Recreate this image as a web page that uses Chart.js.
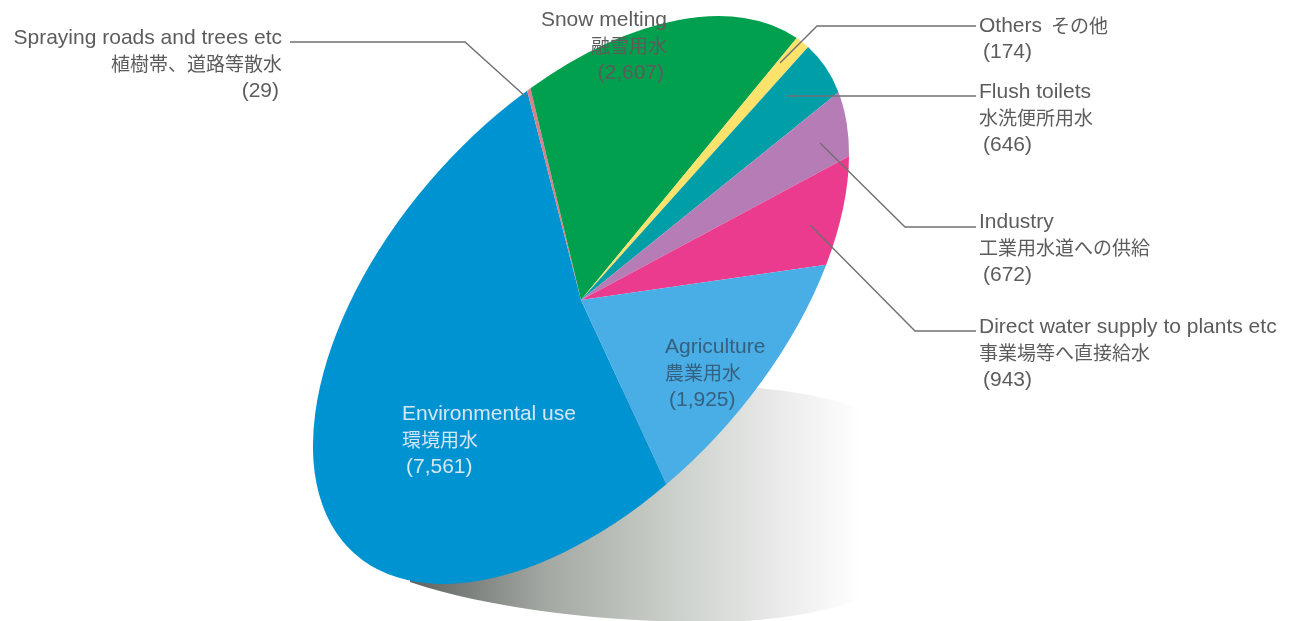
<!DOCTYPE html>
<html>
<head>
<meta charset="utf-8">
<title>Water use</title>
<script src="https://cdn.jsdelivr.net/npm/chart.js@4"></script>
<style>
    html, body { margin: 0; padding: 0; background: #fff; }
    #wrap { width: 1300px; height: 621px; }
</style>
</head>
<body>
<div id="wrap"><canvas id="pie"></canvas></div>
<script>
// clockwise from the big slice
const namesEn = ["Environmental use", "Spraying roads and trees etc", "Snow melting", "Others", "Flush toilets", "Industry", "Direct water supply to plants etc", "Agriculture"];
const namesJa = ["環境用水", "植樹帯、道路等散水", "融雪用水", "その他", "水洗便所用水", "工業用水道への供給", "事業場等へ直接給水", "農業用水"];
const values = [7561, 29, 2607, 174, 646, 672, 943, 1925];
const colors = ["#0093d2", "#d9808a", "#00a04f", "#fde36c", "#009fa8", "#b57cb6", "#ea3b8e", "#4aaee6"];

// where the tilted pie sits on the page
const tilt = { x: 581, y: 300, major: 340, minor: 192, angle: -48.2 };

// x, y (first line), align, color for each label, same order as namesEn
const labelPos = [
    [402, 414, "left", "#d5e6f5"],
    [282, 38, "right", "#5c5c5c"],
    [667, 20, "right", "#5c5c5c"],
    [979, 26, "left", "#5c5c5c"],
    [979, 92, "left", "#5c5c5c"],
    [979, 222, "left", "#5c5c5c"],
    [979, 327, "left", "#5c5c5c"],
    [665, 347, "left", "#35607f"]
];
const leaders = [
    [[290, 42], [465, 42], [526, 97]],
    [[976, 26], [817, 26], [780, 63]],
    [[976, 96], [787, 96]],
    [[976, 227], [905, 227], [820, 143]],
    [[976, 331], [915, 331], [810, 225]]
];

const shadowPlugin = {
    id: "shadow",
    beforeDatasetsDraw(chart) {
        const ctx = chart.ctx;
        ctx.save();
        const g = ctx.createLinearGradient(410, 0, 862, 0);
        g.addColorStop(0, "#5f6360");
        g.addColorStop(0.3, "#a3a8a3");
        g.addColorStop(0.6, "#cdd2cd");
        g.addColorStop(0.85, "#eeeeee");
        g.addColorStop(1, "#ffffff");
        ctx.fillStyle = g;
        ctx.beginPath();
        ctx.rect(410, 0, 452, 621);
        ctx.clip();
        // longer on the left than on the right, left end stays hidden by the pie
        ctx.beginPath();
        ctx.ellipse(710, 504, 400, 118, 0, Math.PI / 2, Math.PI * 1.5);
        ctx.ellipse(710, 504, 260, 118, 0, Math.PI * 1.5, Math.PI * 2.5);
        ctx.fill();
        ctx.restore();
    }
};

const tiltPlugin = {
    id: "tilt",
    beforeDatasetsDraw(chart) {
        const arc = chart.getDatasetMeta(0).data[0];
        const ctx = chart.ctx;
        ctx.save();
        ctx.translate(tilt.x, tilt.y);
        ctx.rotate(tilt.angle * Math.PI / 180);
        ctx.scale(tilt.major / arc.outerRadius, tilt.minor / arc.outerRadius);
        ctx.translate(-arc.x, -arc.y);
    },
    afterDatasetsDraw(chart) {
        chart.ctx.restore();
    }
};

const labelPlugin = {
    id: "labels",
    afterDraw(chart) {
        const ctx = chart.ctx;
        ctx.save();

        ctx.strokeStyle = "#707070";
        ctx.lineWidth = 1.4;
        leaders.forEach(pts => {
            ctx.beginPath();
            pts.forEach((p, i) => i ? ctx.lineTo(p[0], p[1]) : ctx.moveTo(p[0], p[1]));
            ctx.stroke();
        });

        const latin = '21px "Liberation Sans"';
        const kana = '19px "Noto Sans CJK JP"';
        ctx.textBaseline = "middle";
        namesEn.forEach((name, i) => {
            const [x, y, align, color] = labelPos[i];
            const val = "(" + values[i].toLocaleString("en-US") + ")";
            const nudge = align === "left" ? 4 : -3;
            ctx.fillStyle = color;
            ctx.textAlign = align;
            ctx.font = latin;
            ctx.fillText(name, x, y);
            if (name === "Others") {
                // this one has its Japanese on the same line
                ctx.font = kana;
                ctx.fillText(namesJa[i], x + 72, y);
                ctx.font = latin;
                ctx.fillText(val, x + nudge, y + 26);
                return;
            }
            ctx.font = kana;
            ctx.fillText(namesJa[i], x, y + 26);
            ctx.font = latin;
            ctx.fillText(val, x + nudge, y + 53);
        });
        ctx.restore();
    }
};

new Chart(document.getElementById("pie"), {
    type: "pie",
    data: {
        labels: namesEn,
        datasets: [{
            data: values,
            backgroundColor: colors,
            borderWidth: 0
        }]
    },
    options: {
        responsive: true,
        maintainAspectRatio: false,
        animation: false,
        rotation: 193.7,
        layout: { padding: 0 },
        plugins: {
            legend: { display: false },
            tooltip: { enabled: false }
        }
    },
    plugins: [shadowPlugin, tiltPlugin, labelPlugin]
});
</script>
</body>
</html>
